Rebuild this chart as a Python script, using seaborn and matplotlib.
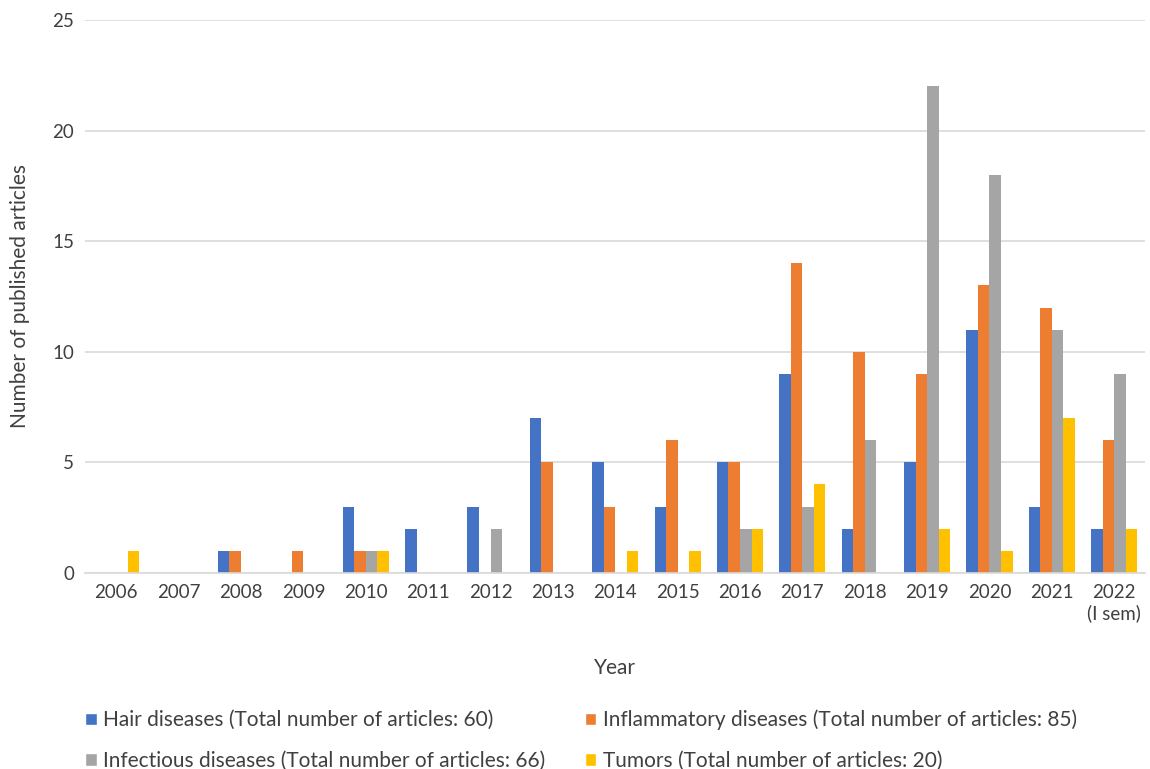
import matplotlib
matplotlib.use("Agg")
import matplotlib.pyplot as plt
import seaborn as sns
import pandas as pd
from matplotlib.patches import Patch

years = ["2006", "2007", "2008", "2009", "2010", "2011", "2012", "2013", "2014",
         "2015", "2016", "2017", "2018", "2019", "2020", "2021", "2022\n(I sem)"]
hair = [0, 0, 1, 0, 3, 2, 3, 7, 5, 3, 5, 9, 2, 5, 11, 3, 2]
inflammatory = [0, 0, 1, 1, 1, 0, 0, 5, 3, 6, 5, 14, 10, 9, 13, 12, 6]
infectious = [0, 0, 0, 0, 1, 0, 2, 0, 0, 0, 2, 3, 6, 22, 18, 11, 9]
tumors = [1, 0, 0, 0, 1, 0, 0, 0, 1, 1, 2, 4, 0, 2, 1, 7, 2]
series_names = ["Hair diseases (Total number of articles: 60)",
                "Inflammatory diseases (Total number of articles: 85)",
                "Infectious diseases (Total number of articles: 66)",
                "Tumors (Total number of articles: 20)"]
colors = ["#4472C4", "#ED7D31", "#A5A5A5", "#FFC000"]

rows = []
for name, vals in zip(series_names, [hair, inflammatory, infectious, tumors]):
    for y, v in zip(years, vals):
        rows.append({"Year": y, "Series": name, "Count": v})
df = pd.DataFrame(rows)

sns.set_theme(style="white")
plt.rcParams['font.family'] = ['Lato', 'DejaVu Sans']

fig = plt.figure(figsize=(11.5, 7.69), dpi=100)
ax = fig.add_axes([0.074, 0.255, 0.922, 0.719])
sns.barplot(data=df, x="Year", y="Count", hue="Series", hue_order=series_names,
            order=years, palette=colors, width=0.74, linewidth=0, ax=ax,
            errorbar=None, legend=False, saturation=1)

ax.set_ylim(0, 25)
ax.set_yticks([0, 5, 10, 15, 20, 25])
ax.yaxis.grid(True, color="#D9D9D9", linewidth=1.2)
ax.set_axisbelow(True)
for s in ["left", "right", "top"]:
    ax.spines[s].set_visible(False)
ax.spines["bottom"].set_color("#D9D9D9")
ax.spines["bottom"].set_linewidth(1.2)
ax.tick_params(axis="both", length=0, labelsize=13.5, colors="#404040", pad=8)
ax.set_xlabel("Year", fontsize=15, color="#404040", labelpad=26)
ax.set_ylabel("Number of published articles", fontsize=15, color="#404040", labelpad=16)
ax.set_xlim(-0.5, len(years) - 0.5)

handles = [Patch(facecolor=c) for c in colors]
order = [0, 2, 1, 3]
fig.legend([handles[i] for i in order], [series_names[i] for i in order],
           ncol=2, loc="upper left", bbox_to_anchor=(0.067, 0.088), frameon=False,
           fontsize=15, handlelength=0.55, handleheight=0.55, handletextpad=0.3,
           columnspacing=1.9, labelspacing=1.0, labelcolor="#404040",
           borderaxespad=0)

fig.savefig("out.png", dpi=100)
